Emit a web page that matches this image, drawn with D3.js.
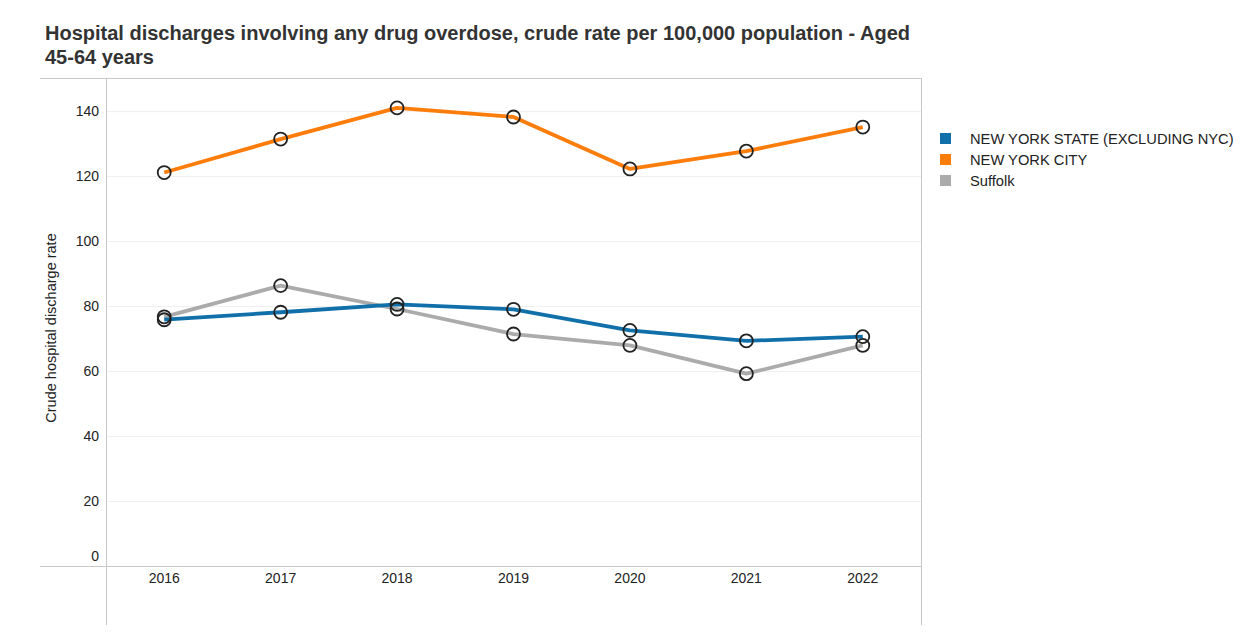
<!DOCTYPE html>
<html>
<head>
<meta charset="utf-8">
<script src="https://cdn.jsdelivr.net/npm/d3@7"></script>
<style>
  body { margin: 0; background: #fff; }
  svg { font-family: "Liberation Sans", Arial, sans-serif; }
</style>
</head>
<body>
<svg id="chart" width="1249" height="639"></svg>
<script>
// data
const years = ["2016", "2017", "2018", "2019", "2020", "2021", "2022"];
const seriesNames = ["NEW YORK STATE (EXCLUDING NYC)", "NEW YORK CITY", "Suffolk"];
const nysValues = [75.8, 78.1, 80.5, 79.0, 72.5, 69.3, 70.6];
const nycValues = [121.1, 131.4, 141.0, 138.2, 122.2, 127.7, 135.1];
const suffolkValues = [76.7, 86.3, 79.1, 71.4, 67.9, 59.2, 67.9];
const yTicks = [0, 20, 40, 60, 80, 100, 120, 140];
const colors = ["#1170aa", "#fc7d0b", "#ababab"];

const series = [nysValues, nycValues, suffolkValues].map((v, i) => ({
  name: seriesNames[i], color: colors[i], values: v
}));

const svg = d3.select("#chart");
const plotLeft = 106, plotRight = 921, plotTop = 78, plotBottom = 566;

const x = d3.scaleBand().domain(years).range([plotLeft, plotRight]);
const y = d3.scaleLinear().domain([0, 150.2]).range([plotBottom, plotTop]);

// title
const title = svg.append("text")
  .attr("font-size", 20).attr("font-weight", "bold").attr("fill", "#333");
title.append("tspan").attr("x", 45).attr("y", 40)
  .text("Hospital discharges involving any drug overdose, crude rate per 100,000 population - Aged");
title.append("tspan").attr("x", 45).attr("y", 64).text("45-64 years");

// gridlines
svg.append("g").selectAll("line")
  .data(yTicks.filter(d => d > 0)).enter().append("line")
  .attr("x1", plotLeft).attr("x2", plotRight)
  .attr("y1", d => y(d) + 0.5).attr("y2", d => y(d) + 0.5)
  .attr("stroke", "#efefef");

// frame lines
const frame = svg.append("g").attr("stroke", "#c8c8c8").attr("fill", "none");
frame.append("line").attr("x1", 40).attr("x2", plotRight).attr("y1", plotTop + 0.5).attr("y2", plotTop + 0.5);
frame.append("line").attr("x1", 40).attr("x2", plotRight).attr("y1", plotBottom + 0.5).attr("y2", plotBottom + 0.5);
frame.append("line").attr("x1", plotLeft + 0.5).attr("x2", plotLeft + 0.5).attr("y1", plotTop).attr("y2", 625);
frame.append("line").attr("x1", plotRight + 0.5).attr("x2", plotRight + 0.5).attr("y1", plotTop).attr("y2", 625);

// y tick labels
svg.append("g").selectAll("text")
  .data(yTicks).enter().append("text")
  .attr("x", 99)
  .attr("y", d => d === 0 ? y(d) - 10 : y(d))
  .attr("dy", "0.35em")
  .attr("text-anchor", "end")
  .attr("font-size", 14).attr("fill", "#222")
  .text(d => d);

// y axis title
svg.append("text")
  .attr("transform", `translate(56,328) rotate(-90)`)
  .attr("text-anchor", "middle")
  .attr("font-size", 14.5).attr("fill", "#222")
  .text("Crude hospital discharge rate");

// x labels
svg.append("g").selectAll("text")
  .data(years).enter().append("text")
  .attr("x", d => x(d) + x.bandwidth() / 2)
  .attr("y", 583)
  .attr("text-anchor", "middle")
  .attr("font-size", 14).attr("fill", "#222")
  .text(d => d);

// lines
const line = d3.line()
  .x((d, i) => x(years[i]) + x.bandwidth() / 2)
  .y(d => y(d));

const order = [2, 0, 1];
order.forEach(k => {
  const s = series[k];
  svg.append("path")
    .attr("d", line(s.values))
    .attr("fill", "none")
    .attr("stroke", s.color)
    .attr("stroke-width", 3.8)
    .attr("stroke-linejoin", "round");
});
order.forEach(k => {
  const s = series[k];
  svg.append("g").selectAll("circle")
    .data(s.values).enter().append("circle")
    .attr("cx", (d, i) => x(years[i]) + x.bandwidth() / 2)
    .attr("cy", d => y(d))
    .attr("r", 6.5)
    .attr("fill", "none")
    .attr("stroke", "#222")
    .attr("stroke-width", 1.8);
});

// legend
const legend = svg.append("g").selectAll("g")
  .data(series).enter().append("g")
  .attr("transform", (d, i) => `translate(940,${133 + i * 21})`);
legend.append("rect").attr("width", 11).attr("height", 11).attr("fill", d => d.color);
legend.append("text")
  .attr("x", 30).attr("y", 6).attr("dy", "0.35em")
  .attr("font-size", 14.7).attr("fill", "#222")
  .text(d => d.name);
</script>
</body>
</html>
